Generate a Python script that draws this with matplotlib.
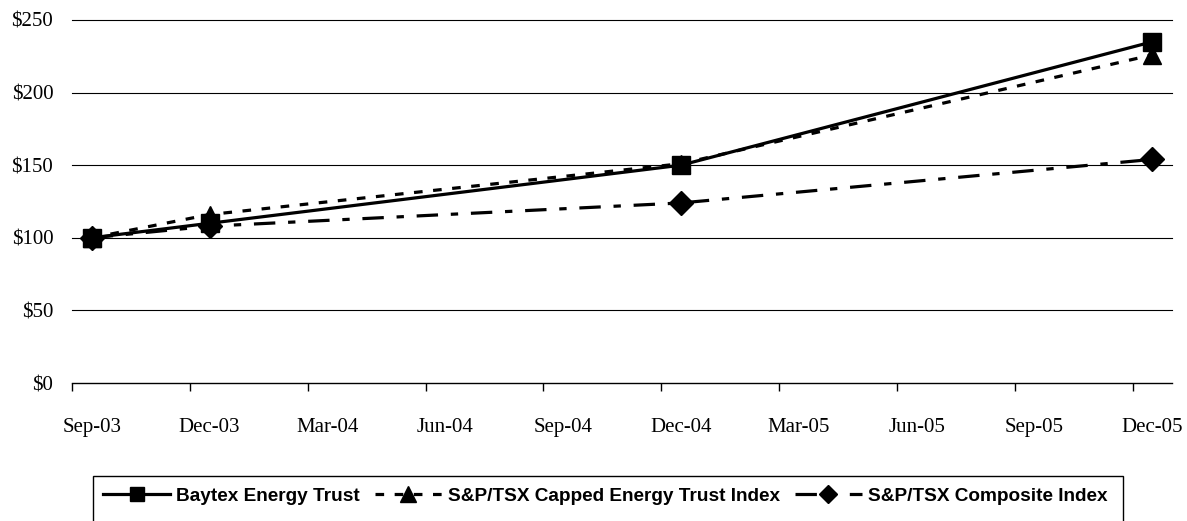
import matplotlib
matplotlib.use('Agg')
import matplotlib.pyplot as plt
from matplotlib.lines import Line2D
from matplotlib.patches import Rectangle
from matplotlib import font_manager
import pandas as pd

# ---- data ----
tick_labels = ['Sep-03', 'Dec-03', 'Mar-04', 'Jun-04', 'Sep-04',
               'Dec-04', 'Mar-05', 'Jun-05', 'Sep-05', 'Dec-05']
point_dates = ['Sep-03', 'Dec-03', 'Dec-04', 'Dec-05']
baytex = [100, 110, 150, 235]
capped = [100, 116, 151, 226]
composite = [100, 108, 124, 154]
series_names = ['Baytex Energy Trust',
                'S&P/TSX Capped Energy Trust Index',
                'S&P/TSX Composite Index']
y_ticks = [0, 50, 100, 150, 200, 250]

# ---- helpers ----
start = pd.to_datetime(tick_labels[0], format='%b-%y')


def month_index(s):
    d = pd.to_datetime(s, format='%b-%y')
    return (d.year - start.year) * 12 + (d.month - start.month)


x_pts = [month_index(s) for s in point_dates]
x_ticks = [month_index(s) for s in tick_labels]

# legend font: prefer a narrow bold sans if available
leg_family, leg_size = 'Liberation Sans', 13.7
try:
    fp = font_manager.findfont(font_manager.FontProperties(family='Liberation Sans Narrow',
                                                           weight='bold'),
                               fallback_to_default=False)
    if 'Narrow' in fp:
        leg_family, leg_size = 'Liberation Sans Narrow', 16.4
except Exception:
    pass

W, H = 1187, 521
fig = plt.figure(figsize=(W / 100, H / 100), dpi=100)
fig.patch.set_facecolor('white')
ax = fig.add_axes([72 / W, 1 - 383 / H, (1172 - 72) / W, (383 - 20) / H])

serif = 'Liberation Serif'

# gridlines
for v in y_ticks[1:]:
    ax.axhline(v, color='black', lw=0.8, zorder=1, clip_on=False)

lw = 2.3
dash_cap = (2.7, 3.3)
dash_comp = (6.7, 4.0, 2.3, 4.0)
ax.plot(x_pts, composite, color='black', lw=lw, dashes=dash_comp,
        marker='D', markersize=12, zorder=3)
ax.plot(x_pts, capped, color='black', lw=lw, dashes=dash_cap,
        marker='^', markersize=13, zorder=4)
ax.plot(x_pts, baytex, color='black', lw=lw, linestyle='-',
        marker='s', markersize=13, zorder=5)

ax.set_xlim(x_ticks[0] - 0.5, x_ticks[-1] + 0.5)
ax.set_ylim(0, 250)

for s in ['left', 'right', 'top']:
    ax.spines[s].set_visible(False)
ax.spines['bottom'].set_linewidth(1.0)

ax.set_xticks(x_ticks)
ax.set_xticklabels(tick_labels, fontfamily=serif, fontsize=15)
ax.set_xticks([x - 0.5 for x in x_ticks], minor=True)
ax.tick_params(axis='x', which='major', length=0, pad=25)
ax.tick_params(axis='x', which='minor', length=6, width=1.0, direction='out')

ax.set_yticks(y_ticks)
ax.set_yticklabels(['${}'.format(v) for v in y_ticks], fontfamily=serif, fontsize=15)
ax.tick_params(axis='y', length=0, pad=13.5)

# ---- legend ----
handles = [
    Line2D([], [], color='black', lw=lw, linestyle='-', marker='s', markersize=10.5),
    Line2D([], [], color='black', lw=lw, dashes=dash_cap, marker='^', markersize=11),
    Line2D([], [], color='black', lw=lw, dashes=dash_comp, marker='D', markersize=9),
]
em_px = leg_size * 100 / 72
leg = fig.legend(handles, series_names, loc='center left',
                 bbox_to_anchor=(103 / W, 1 - 496 / H), ncol=3, frameon=False,
                 prop={'family': leg_family, 'weight': 'bold', 'size': leg_size},
                 handlelength=67 / em_px, handletextpad=6 / em_px,
                 columnspacing=15 / em_px,
                 borderpad=0, borderaxespad=0)
fig.add_artist(Rectangle((93 / W, -0.05), (1123 - 93) / W, (1 - 476 / H) + 0.05,
                         transform=fig.transFigure, fill=False, lw=1.0,
                         edgecolor='black', clip_on=False))

fig.savefig('out.png', dpi=100, facecolor='white')
